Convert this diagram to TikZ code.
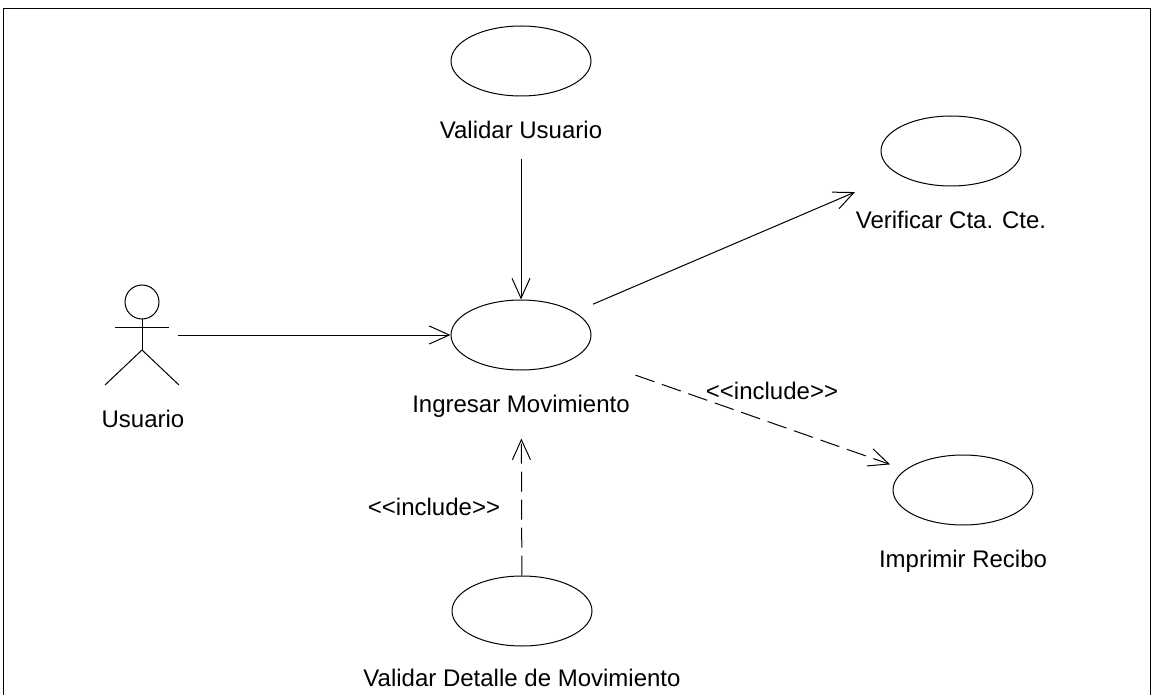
\documentclass[tikz,border=0pt]{standalone}
\usepackage{fontspec}
\setmainfont{Liberation Sans}
\usetikzlibrary{arrows.meta,positioning,shapes.geometric}

\tikzset{
    usecase/.style={draw, ellipse, minimum width=70pt, minimum height=35pt, inner sep=0pt},
    uclabel/.style={inner sep=0pt},
    include/.style={dash pattern=on 10pt off 4pt},
}
\newcommand{\stereo}[1]{<\kern0pt<#1>\kern0pt>}

\begin{document}
\begin{tikzpicture}[x=0.5pt, y=-0.5pt, >={Straight Barb[length=10pt,width=9pt]},
    line width=0.5pt, font=\fontsize{12pt}{14pt}\selectfont]

    \useasboundingbox (0,0) rectangle (1156,695);
    \draw (3,695) -- (3,9) -- (1150,9) -- (1150,695);

    % casos de uso
    \node[usecase] (valusu) at (521,61) {};
    \node[uclabel, below=12pt of valusu] (lblvalusu) {Validar Usuario};
    \node[usecase] (vercta) at (951,151) {};
    \node[uclabel, below=12pt of vercta] (lblvercta) {Verificar Cta. Cte.};
    \node[usecase] (ingmov) at (521,335) {};
    \node[uclabel, below=12pt of ingmov] (lblingmov) {Ingresar Movimiento};
    \node[usecase] (imprec) at (963,490) {};
    \node[uclabel, below=12pt of imprec] (lblimprec) {Imprimir Recibo};
    \node[usecase] (valdet) at (522,611) {};
    \node[uclabel, below=11pt of valdet] (lblvaldet) {Validar Detalle de Movimiento};

    % actor
    \draw (142,302) circle[radius=8.5pt];
    \draw (142,319) -- (142,350);
    \draw (115,327) -- (169,327);
    \draw (105,385) -- (142,350) -- (179,385);
    \node[uclabel] (usuario) at (143,419) {Usuario};
    \coordinate (actor) at (178,335);

    % relaciones
    \draw[->] (actor) -- (ingmov);
    \draw[->, shorten <=10pt] (lblvalusu) -- (ingmov);
    \draw[->, shorten <=10pt, shorten >=23pt] (ingmov) -- (vercta);
    \draw[->, include, shorten <=30pt, shorten >=8pt] (ingmov) -- (imprec);
    \draw[->, include, shorten >=34pt] (valdet) -- (ingmov);

    \node[uclabel] (inc1) at (772,391) {\stereo{include}};
    \node[uclabel] (inc2) at (434,507) {\stereo{include}};

\end{tikzpicture}
\end{document}
